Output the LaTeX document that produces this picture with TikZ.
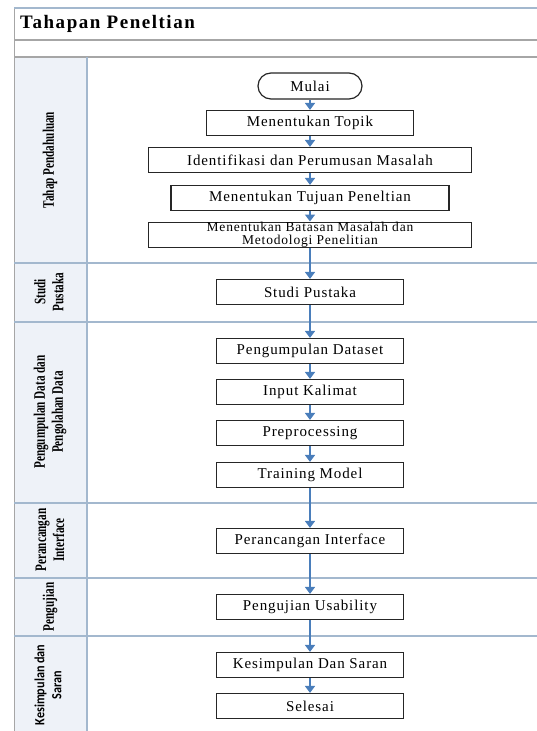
\documentclass[tikz,border=0pt]{standalone}
\usepackage{fontspec}
\setmainfont{Liberation Serif}
\newfontfamily\boxfont[LetterSpace=6]{Liberation Serif}
\newfontfamily\titlefont[LetterSpace=8]{Liberation Serif}
\newfontfamily\lanefont[FakeStretch=0.7]{Liberation Serif}
\newfontfamily\lanesans[FakeStretch=0.87]{Carlito}
\usepackage{tikz}
\usetikzlibrary{positioning}
\usetikzlibrary {arrows.meta}
\definecolor{flowblue}{HTML}{4A7EBB}
\definecolor{laneline}{HTML}{A3B8CE}
\definecolor{lanefill}{HTML}{EEF2F8}
\definecolor{frameline}{HTML}{A6A6A6}
\tikzset{stepbox/.style={rectangle,draw=black!85,fill=white,line width=1.2pt,
inner sep=1pt,minimum height=25pt, minimum width=187pt,align=center,
font=\boxfont\fontsize{15}{14}\selectfont}}
\tikzset{startbox/.style={stepbox,rounded corners=13pt,minimum height=26pt, minimum width=104pt}}
\tikzset{lanelabel/.style={rotate=90,align=center,inner sep=0pt,
font=\lanefont\bfseries\fontsize{16}{18}\selectfont}}
\tikzset{flowarrow/.style={draw=flowblue,line width=2pt,-{Triangle[width=10pt,length=7pt]}}}

\begin{document}
\begin{tikzpicture}[x=1pt,y=-1pt]
    \useasboundingbox (0,0) rectangle (536,731);

        % frame and lanes
        \fill[lanefill] (14,57) rectangle (87,745);
        \draw[frameline,line width=1pt] (14,745) -- (14,8) -- (545,8);
        \draw[laneline,line width=1.2pt] (14,8) -- (545,8);
        \draw[frameline,line width=1.5pt] (14,40) -- (545,40);
        \draw[frameline,line width=1.5pt] (14,57) -- (545,57);
        \draw[laneline,line width=1.2pt] (87,57) -- (87,745);
        \draw[laneline,line width=1.2pt] (14,263) -- (545,263);
        \draw[laneline,line width=1.2pt] (14,322) -- (545,322);
        \draw[laneline,line width=1.2pt] (14,503) -- (545,503);
        \draw[laneline,line width=1.2pt] (14,578) -- (545,578);
        \draw[laneline,line width=1.2pt] (14,636) -- (545,636);

        \node[anchor=west,inner sep=0pt,font=\titlefont\bfseries\fontsize{19}{20}\selectfont] (title) at (20,24) {Tahapan Peneltian};

        \node[lanelabel] (laneA) at (50,160) {Tahap Pendahuluan};
        \node[lanelabel] (laneB) at (49,292) {Studi\\Pustaka};
        \node[lanelabel] (laneC) at (50,412) {Pengumpulan Data dan\\Pengolahan Data};
        \node[lanelabel] (laneD) at (50,540) {Perancangan\\Interface};
        \node[lanelabel] (laneE) at (50,607) {Pengujian};
        \node[lanelabel,font=\lanesans\bfseries\fontsize{14}{17}\selectfont] (laneF) at (48,685) {Kesimpulan dan\\Saran};

        % steps
        \node[startbox] (mulai) at (310,86) {Mulai};
        \node[stepbox, minimum width=207pt] (topik) at (310,123) {Menentukan Topik};
        \node[stepbox, minimum width=323pt] (identifikasi) at (310,160) {Identifikasi dan Perumusan Masalah};
        \node[stepbox, minimum width=278pt] (tujuan) at (310,198) {Menentukan Tujuan Peneltian};
        \node[stepbox, minimum width=323pt, inner ysep=0.5pt, font=\boxfont\fontsize{13.5}{12.5}\selectfont] (batasan) at (310,235) {Menentukan Batasan Masalah dan\\Metodologi Penelitian};
        \node[stepbox] (pustaka) at (310,292) {Studi Pustaka};
        \node[stepbox] (dataset) at (310,351) {Pengumpulan Dataset};
        \node[stepbox] (kalimat) at (310,392) {Input Kalimat};
        \node[stepbox] (preproc) at (310,433) {Preprocessing};
        \node[stepbox] (training) at (310,475) {Training Model};
        \node[stepbox] (interface) at (310,541) {Perancangan Interface};
        \node[stepbox] (usability) at (310,607) {Pengujian Usability};
        \node[stepbox] (saran) at (310,665) {Kesimpulan Dan Saran};
        \node[stepbox] (selesai) at (310,706) {Selesai};

        % arrows
        \draw[flowarrow] (mulai) -- (topik);
        \draw[flowarrow] (topik) -- (identifikasi);
        \draw[flowarrow] (identifikasi) -- (tujuan);
        \draw[flowarrow] (tujuan) -- (batasan);
        \draw[flowarrow] (batasan) -- (pustaka);
        \draw[flowarrow] (pustaka) -- (dataset);
        \draw[flowarrow] (dataset) -- (kalimat);
        \draw[flowarrow] (kalimat) -- (preproc);
        \draw[flowarrow] (preproc) -- (training);
        \draw[flowarrow] (training) -- (interface);
        \draw[flowarrow] (interface) -- (usability);
        \draw[flowarrow] (usability) -- (saran);
        \draw[flowarrow] (saran) -- (selesai);

    \end{tikzpicture}
\end{document}
